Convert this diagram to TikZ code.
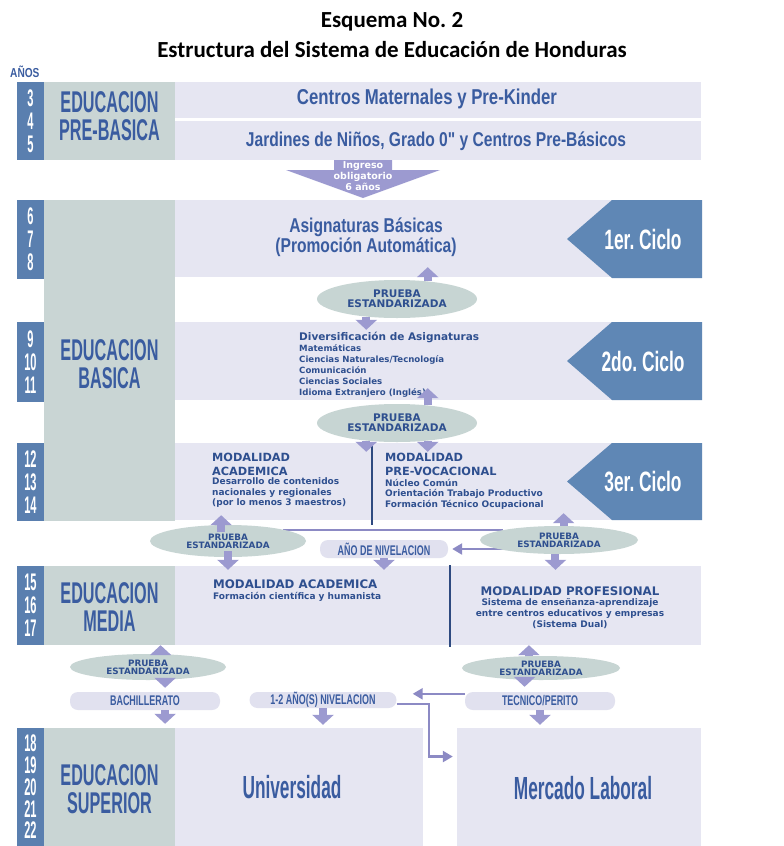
\documentclass[tikz,border=0pt]{standalone}
\usepackage{fontspec}
\setmainfont{DejaVu Sans}
\newfontfamily\titlefont{Carlito}
\newfontfamily\headfont{Liberation Sans}[FakeStretch=0.54]
\newfontfamily\yearfont{Liberation Sans}[FakeStretch=0.46]
\newfontfamily\rowfont{Liberation Sans}[FakeStretch=0.78]
\newfontfamily\ciclofont{Liberation Sans}[FakeStretch=0.62]
\newfontfamily\tagfont{Liberation Sans}[FakeStretch=0.64]
\usetikzlibrary{
  arrows.meta,
  positioning,
  shapes.geometric
}
\definecolor{YearBlue}{HTML}{5A7FAF}
\definecolor{CicloBlue}{HTML}{5F87B5}
\definecolor{LabelGray}{HTML}{C9D5D4}
\definecolor{RowLav}{HTML}{E6E6F2}
\definecolor{TagLav}{HTML}{E1E1EF}
\definecolor{HeadBlue}{HTML}{3A5CA0}
\definecolor{TextBlue}{HTML}{2E4F8F}
\definecolor{TestGray}{HTML}{C7D5D3}
\definecolor{ArrowLav}{HTML}{9C9AD0}
\definecolor{LinkLav}{HTML}{8C8AC4}

\begin{document}
\frenchspacing
\begin{tikzpicture}[
  x=1pt, y=-1pt,
  yearbar/.style={
    fill=YearBlue,
    inner sep=0pt,
    minimum width=27pt,
    text=white,
    align=center,
    font=\yearfont\bfseries\fontsize{24}{23}\selectfont
  },
  labelcol/.style={fill=LabelGray,inner sep=0pt,minimum width=131pt},
  level/.style={
    text=HeadBlue,
    align=center,
    inner sep=0pt,
    font=\headfont\bfseries\fontsize{30}{28}\selectfont
  },
  rowbg/.style={fill=RowLav,inner sep=0pt,minimum width=526pt},
  rowtext/.style={
    text=HeadBlue,
    align=center,
    inner sep=0pt,
    font=\rowfont\bfseries\fontsize{20}{20}\selectfont
  },
  ciclotext/.style={
    text=white,
    inner sep=0pt,
    font=\ciclofont\bfseries\fontsize{28}{28}\selectfont
  },
  subjhead/.style={
    text=TextBlue,
    align=left,
    anchor=west,
    inner sep=0pt,
    font=\bfseries\fontsize{11.3}{14}\selectfont
  },
  subjlist/.style={
    text=TextBlue,
    align=left,
    anchor=west,
    inner sep=0pt,
    font=\bfseries\fontsize{9}{10.5}\selectfont
  },
  test/.style={
    ellipse,
    fill=TestGray,
    inner sep=0pt,
    align=center,
    text=TextBlue,
    minimum width=156pt,
    minimum height=30pt,
    font=\bfseries\fontsize{8.8}{8}\selectfont
  },
  bigtest/.style={
    test,
    minimum width=160pt,
    minimum height=38pt,
    font=\bfseries\fontsize{10.5}{10}\selectfont
  },
  tag/.style={
    fill=TagLav,
    rounded corners=8pt,
    inner sep=0pt,
    minimum height=18pt,
    text=HeadBlue,
    font=\tagfont\bfseries\fontsize{14}{14}\selectfont
  },
  blockarrow/.style={draw=ArrowLav,line width=8pt,-{Triangle[width=21pt,length=10pt]}},
  link/.style={draw=LinkLav,line width=2.4pt},
  linkarrow/.style={link,-{Triangle[width=11pt,length=10pt]}},
  divider/.style={draw=HeadBlue!80!black,line width=1.4pt}
]
\fill[white] (0,0) rectangle (784,846);
\useasboundingbox (0,0) rectangle (784,846);

% title
\node[inner sep=0pt,font=\titlefont\bfseries\fontsize{23}{28}\selectfont] (esquema) at (392,22)
  {Esquema No. 2};
\node[inner sep=0pt,font=\titlefont\bfseries\fontsize{23}{28}\selectfont] (titulo) at (392,50)
  {Estructura del Sistema de Educación de Honduras};
\node[anchor=west,inner sep=0pt,text=HeadBlue,font=\rowfont\bfseries\fontsize{13}{13}\selectfont] (anos)
  at (10,72) {AÑOS};

% year column
\node[yearbar,minimum height=78pt] (yr1) at (30.5,121) {3\\4\\5};
\node[yearbar,minimum height=79pt] (yr2) at (30.5,239.5) {6\\7\\8};
\node[yearbar,minimum height=80pt] (yr3) at (30.5,362) {9\\10\\11};
\node[yearbar,minimum height=78pt] (yr4) at (30.5,482) {12\\13\\14};
\node[yearbar,minimum height=79pt] (yr5) at (30.5,605.5) {15\\16\\17};
\node[yearbar,minimum height=118pt,font=\yearfont\bfseries\fontsize{24}{21.7}\selectfont] (yr6)
  at (30.5,787) {18\\19\\20\\21\\22};

% level column
\node[labelcol,minimum height=78pt] (colpre) at (109.5,121) {};
\node[labelcol,minimum height=321pt] (colbas) at (109.5,360.5) {};
\node[labelcol,minimum height=79pt] (colmed) at (109.5,605.5) {};
\node[labelcol,minimum height=118pt] (colsup) at (109.5,787) {};
\node[level] (lvpre) at (109.5,116) {EDUCACION\\PRE-BASICA};
\node[level] (lvbas) at (109.5,364) {EDUCACION\\BASICA};
\node[level] (lvmed) at (109.5,607) {EDUCACION\\MEDIA};
\node[level] (lvsup) at (109.5,789) {EDUCACION\\SUPERIOR};

% rows
\node[rowbg,minimum height=36pt] (maternal) at (438,100) {};
\node[rowbg,minimum height=39pt] (jardin) at (438,140.5) {};
\node[rowbg,minimum height=77pt] (basicas) at (438,238.5) {};
\node[rowbg,minimum height=78pt] (diversa) at (438,361) {};
\node[rowbg,minimum height=77pt] (tercer) at (438,481.5) {};
\node[rowbg,minimum height=79pt] (media) at (438,605.5) {};
\node[rowbg,minimum width=248pt,minimum height=118pt] (univ) at (299,787) {};
\node[rowbg,minimum width=244pt,minimum height=118pt] (mercado) at (579,787) {};

\node[rowtext,font=\rowfont\bfseries\fontsize{21.5}{20}\selectfont] (tmaternal) at (427,99)
  {Centros Maternales y Pre-Kinder};
\node[rowtext] (tjardin) at (436,141) {Jardines de Niños, Grado 0" y Centros Pre-Básicos};
\node[rowtext] (tbasicas) at (366,237) {Asignaturas Básicas\\(Promoción Automática)};
\node[level,font=\headfont\bfseries\fontsize{32}{32}\selectfont] (tuniv) at (292,787) {Universidad};
\node[level,font=\headfont\bfseries\fontsize{32}{32}\selectfont] (tmercado) at (583,788) {Mercado Laboral};

% cycles
\foreach \ya/\yb/\lbl [count=\i] in {200/278/1er. Ciclo,322/400/2do. Ciclo,443/520/3er. Ciclo}{
  \fill[CicloBlue] (567,{(\ya+\yb)/2}) -- (612,\ya) -- (702,\ya) -- (702,\yb) -- (612,\yb) -- cycle;
  \node[ciclotext] (ciclo\i) at (643,{(\ya+\yb)/2}) {\lbl};
}

% entry arrow
\fill[ArrowLav] (334,160) -- (392,160) -- (392,170) -- (440,170) -- (363,198)
  -- (286,170) -- (334,170) -- cycle;
\node[align=center,inner sep=0pt,text=white,font=\bfseries\fontsize{9.5}{11}\selectfont] (ingreso)
  at (363,176) {Ingreso\\obligatorio\\6 años};

% subjects
\node[subjhead,font=\bfseries\fontsize{10.5}{12}\selectfont] (divhead) at (299,337)
  {Diversificación de Asignaturas};
\node[subjlist,font=\bfseries\fontsize{8.6}{11}\selectfont] (divlist) at (299,370.5)
  {Matemáticas\\Ciencias Naturales/Tecnología\\Comunicación\\Ciencias Sociales\\Idioma Extranjero (Inglés)};

\node[subjhead] (acadhead) at (212,464) {MODALIDAD\\ACADEMICA};
\node[subjlist] (acadlist) at (212,493)
  {Desarrollo de contenidos\\nacionales y regionales\\(por lo menos 3 maestros)};
\node[subjhead] (vochead) at (385,464) {MODALIDAD\\PRE-VOCACIONAL};
\node[subjlist] (voclist) at (385,494)
  {Núcleo Común\\Orientación Trabajo Productivo\\Formación Técnico Ocupacional};
\draw[divider] (372,443) -- (372,525);

\node[subjhead,font=\bfseries\fontsize{11.8}{14}\selectfont] (medhead) at (213,584) {MODALIDAD ACADEMICA};
\node[subjlist] (medlist) at (213,597) {Formación científica y humanista};
\node[subjhead,anchor=center,align=center,font=\bfseries\fontsize{11.8}{14}\selectfont] (profhead)
  at (570,591) {MODALIDAD PROFESIONAL};
\node[subjlist,anchor=center,align=center,font=\bfseries\fontsize{9}{11}\selectfont] (proflist)
  at (570,614) {Sistema de enseñanza-aprendizaje\\entre centros educativos y empresas\\(Sistema Dual)};
\draw[divider] (450,565) -- (450,647);

% tags
\node[tag,minimum width=128pt] (nivel) at (384,549) {AÑO DE NIVELACION};
\node[tag,minimum width=150pt] (bachi) at (145,701) {BACHILLERATO};
\node[tag,minimum width=147pt,minimum height=16pt] (nivel2) at (323,700) {1-2 AÑO(S) NIVELACION};
\node[tag,minimum width=150pt] (tecnico) at (540,701) {TECNICO/PERITO};

% links
\coordinate (joinL) at (283,530);
\coordinate (joinR) at (503,530);
\draw[link] (joinL) -- (joinR);
\draw[linkarrow,shorten >=4pt] (joinR |- nivel.east) -- (nivel.east);
\coordinate (tecin) at ([yshift=-2pt]tecnico.north west);
\draw[linkarrow,shorten >=16pt] (tecin) -- (tecin -| nivel2.east);
\draw[linkarrow,shorten >=4pt] ([yshift=-4pt]nivel2.east) -- ++(32,0) |- (mercado.166);

% tests
\node[bigtest] (test1) at (397,299) {PRUEBA\\ESTANDARIZADA};
\node[bigtest] (test2) at (397,423) {PRUEBA\\ESTANDARIZADA};
\node[test,minimum height=32pt] (test3) at (228,541) {PRUEBA\\ESTANDARIZADA};
\node[test,minimum width=158pt,minimum height=28pt] (test4) at (559,540) {PRUEBA\\ESTANDARIZADA};
\node[test,minimum height=26pt] (test5) at (148,667) {PRUEBA\\ESTANDARIZADA};
\node[test,minimum width=158pt,minimum height=24pt] (test6) at (541,668) {PRUEBA\\ESTANDARIZADA};

% arrows
\draw[blockarrow,shorten >=-10pt] (test1.30) -- (test1.30 |- basicas.south);
\draw[blockarrow,shorten >=-8pt] (test1.210) -- (test1.210 |- diversa.north);
\draw[blockarrow,shorten >=-12pt] (test2.30) -- (test2.30 |- diversa.south);
\draw[blockarrow,shorten >=-9pt] (test2.210) -- (test2.210 |- tercer.north);
\draw[blockarrow,shorten >=-9pt] (test2.330) -- (test2.330 |- tercer.north);
\draw[blockarrow,shorten >=-5pt] ([yshift=-7pt]test3.113) -- (test3.113 |- tercer.south);
\draw[blockarrow,shorten >=-4pt] ([yshift=-10pt]test3.center) -- (test3.center |- media.north);
\draw[blockarrow,shorten >=-7pt] (test4.72) -- (test4.72 |- tercer.south);
\draw[blockarrow,shorten >=-4pt] (test4.256) -- (test4.256 |- media.north);
\draw[blockarrow,shorten >=-4pt] (nivel.south) -- (nivel.south |- media.north);
\draw[blockarrow] (test5.46) -- (test5.46 |- media.south);
\draw[blockarrow,shorten >=4pt] (test5.323) -- (test5.323 |- bachi.north);
\draw[blockarrow,shorten >=4pt] (test5.323 |- bachi.south) -- (test5.323 |- univ.north);
\draw[blockarrow,shorten >=3pt] (nivel2.south) -- (nivel2.south |- univ.north);
\draw[blockarrow] (test6.135) -- (test6.135 |- media.south);
\draw[blockarrow,shorten >=5pt] (test6.216) -- (test6.216 |- tecnico.north);
\draw[blockarrow,shorten >=3pt] (tecnico.south) -- (tecnico.south |- mercado.north);
\end{tikzpicture}
\end{document}
